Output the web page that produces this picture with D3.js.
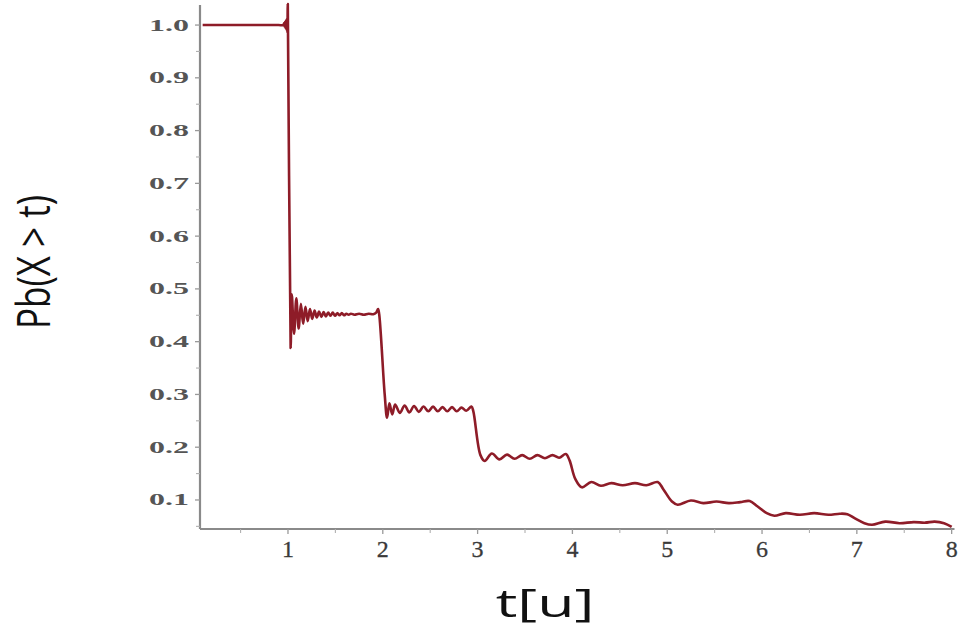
<!DOCTYPE html>
<html>
<head>
<meta charset="utf-8">
<script src="https://cdn.jsdelivr.net/npm/d3@7/dist/d3.min.js"></script>
<style>
  html, body { margin: 0; padding: 0; background: #ffffff; }
  svg { display: block; }
</style>
</head>
<body>
<svg id="chart" width="964" height="631"></svg>
<script>
// ---- data ----
const xTickValues = [1, 2, 3, 4, 5, 6, 7, 8];
const xTickLabels = ["1", "2", "3", "4", "5", "6", "7", "8"];
const xMinorTicks = [0.5, 1.5, 2.5, 3.5, 4.5, 5.5, 6.5, 7.5];
const yTickValues = [0.1, 0.2, 0.3, 0.4, 0.5, 0.6, 0.7, 0.8, 0.9, 1.0];
const yTickLabels = ["0.1", "0.2", "0.3", "0.4", "0.5", "0.6", "0.7", "0.8", "0.9", "1.0"];
const yMinorTicks = [0.05, 0.15, 0.25, 0.35, 0.45, 0.55, 0.65, 0.75, 0.85, 0.95];
const xTitle = "t[u]";
const yTitle = "Pb(X > t)";

// t values and survival probability values of the curve
const curveT = [
  0.10, 0.50, 0.90, 0.95, 0.96, 0.965, 0.97, 0.975, 0.98, 0.985, 0.99, 0.994, 0.998,
  1.028, 1.04, 1.064, 1.088, 1.112, 1.136, 1.16, 1.184, 1.208, 1.232, 1.256, 1.28,
  1.304, 1.328, 1.352, 1.376, 1.40, 1.424, 1.448, 1.472, 1.496, 1.52, 1.544, 1.568,
  1.592, 1.616, 1.64, 1.664, 1.70, 1.75, 1.80, 1.85, 1.90, 1.93, 1.95, 1.962,
  2.02, 2.045, 2.07, 2.10, 2.13, 2.18, 2.23, 2.28, 2.33, 2.38, 2.43, 2.48, 2.53,
  2.58, 2.63, 2.68, 2.73, 2.78, 2.83, 2.88, 2.935, 2.955,
  3.03, 3.075, 3.15, 3.23, 3.31, 3.39, 3.47, 3.55, 3.63, 3.71, 3.79, 3.86, 3.93,
  3.97, 4.03, 4.10, 4.20, 4.30, 4.41, 4.53, 4.66, 4.78, 4.90,
  4.96, 5.05, 5.11, 5.25, 5.38, 5.52, 5.65, 5.77, 5.87,
  5.95, 6.05, 6.13, 6.25, 6.40, 6.55, 6.70, 6.82, 6.90,
  6.98, 7.08, 7.16, 7.30, 7.45, 7.60, 7.72, 7.82, 7.92, 8.00
];
const curveP = [
  1.000, 1.000, 1.000, 1.000, 1.004, 0.997, 1.006, 0.994, 1.009, 0.991, 1.013, 0.985, 1.040,
  0.388, 0.490, 0.415, 0.482, 0.425, 0.472, 0.434, 0.466, 0.439, 0.462, 0.443, 0.459,
  0.446, 0.457, 0.447, 0.456, 0.448, 0.455, 0.449, 0.455, 0.449, 0.454, 0.450, 0.454,
  0.450, 0.453, 0.451, 0.453, 0.451, 0.453, 0.451, 0.453, 0.452, 0.455, 0.462, 0.452,
  0.300, 0.256, 0.283, 0.262, 0.281, 0.265, 0.279, 0.266, 0.278, 0.267, 0.277, 0.268, 0.277,
  0.268, 0.276, 0.268, 0.276, 0.268, 0.275, 0.269, 0.277, 0.268,
  0.185, 0.174, 0.188, 0.177, 0.186, 0.178, 0.185, 0.178, 0.185, 0.179, 0.185, 0.180, 0.187,
  0.175, 0.140, 0.124, 0.134, 0.127, 0.132, 0.128, 0.132, 0.128, 0.134,
  0.120, 0.097, 0.091, 0.099, 0.094, 0.097, 0.094, 0.096, 0.098,
  0.088, 0.075, 0.070, 0.075, 0.072, 0.075, 0.072, 0.074, 0.073,
  0.065, 0.056, 0.053, 0.059, 0.056, 0.058, 0.057, 0.059, 0.056, 0.049
];

// ---- drawing ----
const svg = d3.select("#chart");
const x = d3.scaleLinear().domain([0.072, 8.03]).range([200, 954.5]);
const y = d3.scaleLinear().domain([0.045, 1.038]).range([529, 5]);

const axisColor = "#8a8a8a";

// y axis
const yAxis = svg.append("g").attr("transform", `translate(${x(0.072)},0)`);
yAxis.append("line")
  .attr("x1", 0).attr("x2", 0).attr("y1", y(1.038)).attr("y2", y(0.045))
  .attr("stroke", axisColor).attr("stroke-width", 2.2);
yAxis.selectAll("line.major").data(yTickValues).enter().append("line")
  .attr("class", "major")
  .attr("x1", -5).attr("x2", 0).attr("y1", d => y(d)).attr("y2", d => y(d))
  .attr("stroke", "#9a9a9a").attr("stroke-width", 1.3);
yAxis.selectAll("line.minor").data(yMinorTicks).enter().append("line")
  .attr("class", "minor")
  .attr("x1", -4).attr("x2", 0).attr("y1", d => y(d)).attr("y2", d => y(d))
  .attr("stroke", "#b0b0b0").attr("stroke-width", 1.1);
yAxis.selectAll("text").data(yTickValues).enter().append("text")
  .attr("transform", d => `translate(-11,${y(d) + 5.5}) scale(2.0,1)`)
  .attr("text-anchor", "end")
  .attr("font-family", "'Liberation Serif', 'Times New Roman', serif")
  .attr("font-weight", "bold")
  .attr("font-size", 16)
  .attr("fill", "#555555")
  .text((d, i) => yTickLabels[i]);

// x axis
const xAxis = svg.append("g").attr("transform", `translate(0,${y(0.045)})`);
xAxis.append("line")
  .attr("x1", x(0.072)).attr("x2", x(8.03)).attr("y1", 0).attr("y2", 0)
  .attr("stroke", axisColor).attr("stroke-width", 2.2);
xAxis.selectAll("line.major").data(xTickValues).enter().append("line")
  .attr("class", "major")
  .attr("x1", d => x(d)).attr("x2", d => x(d)).attr("y1", 0).attr("y2", 5)
  .attr("stroke", "#9a9a9a").attr("stroke-width", 1.3);
xAxis.selectAll("line.minor").data(xMinorTicks).enter().append("line")
  .attr("class", "minor")
  .attr("x1", d => x(d)).attr("x2", d => x(d)).attr("y1", 0).attr("y2", 4)
  .attr("stroke", "#b0b0b0").attr("stroke-width", 1.1);
xAxis.selectAll("text").data(xTickValues).enter().append("text")
  .attr("x", d => x(d)).attr("y", 28)
  .attr("text-anchor", "middle")
  .attr("font-family", "'Liberation Serif', 'Times New Roman', serif")
  .attr("font-size", 24)
  .attr("stroke", "#3a3a3a").attr("stroke-width", 0.3)
  .attr("fill", "#3a3a3a")
  .text((d, i) => xTickLabels[i]);

// curve
const pts = curveT.map((t, i) => [t, curveP[i]]);
const line = d3.line()
  .x(d => x(d[0]))
  .y(d => y(d[1]))
  .curve(d3.curveCatmullRom.alpha(0.5));
svg.append("path")
  .datum(pts)
  .attr("d", line)
  .attr("fill", "none")
  .attr("stroke", "#8e1c28")
  .attr("stroke-width", 2.6)
  .attr("stroke-linejoin", "round");

// axis titles
svg.append("text")
  .attr("transform", "translate(545,617) scale(1.6,1)")
  .attr("text-anchor", "middle")
  .attr("font-family", "'Open Sans', 'Noto Sans', sans-serif")
  .attr("font-size", 38)
  .attr("fill", "#111")
  .text(xTitle);

svg.append("text")
  .attr("transform", "translate(50,262) rotate(-90) scale(1,1.3)")
  .attr("text-anchor", "middle")
  .attr("font-family", "'Open Sans', 'Noto Sans', sans-serif")
  .attr("font-size", 35)
  .attr("fill", "#111")
  .text(yTitle);
</script>
</body>
</html>
